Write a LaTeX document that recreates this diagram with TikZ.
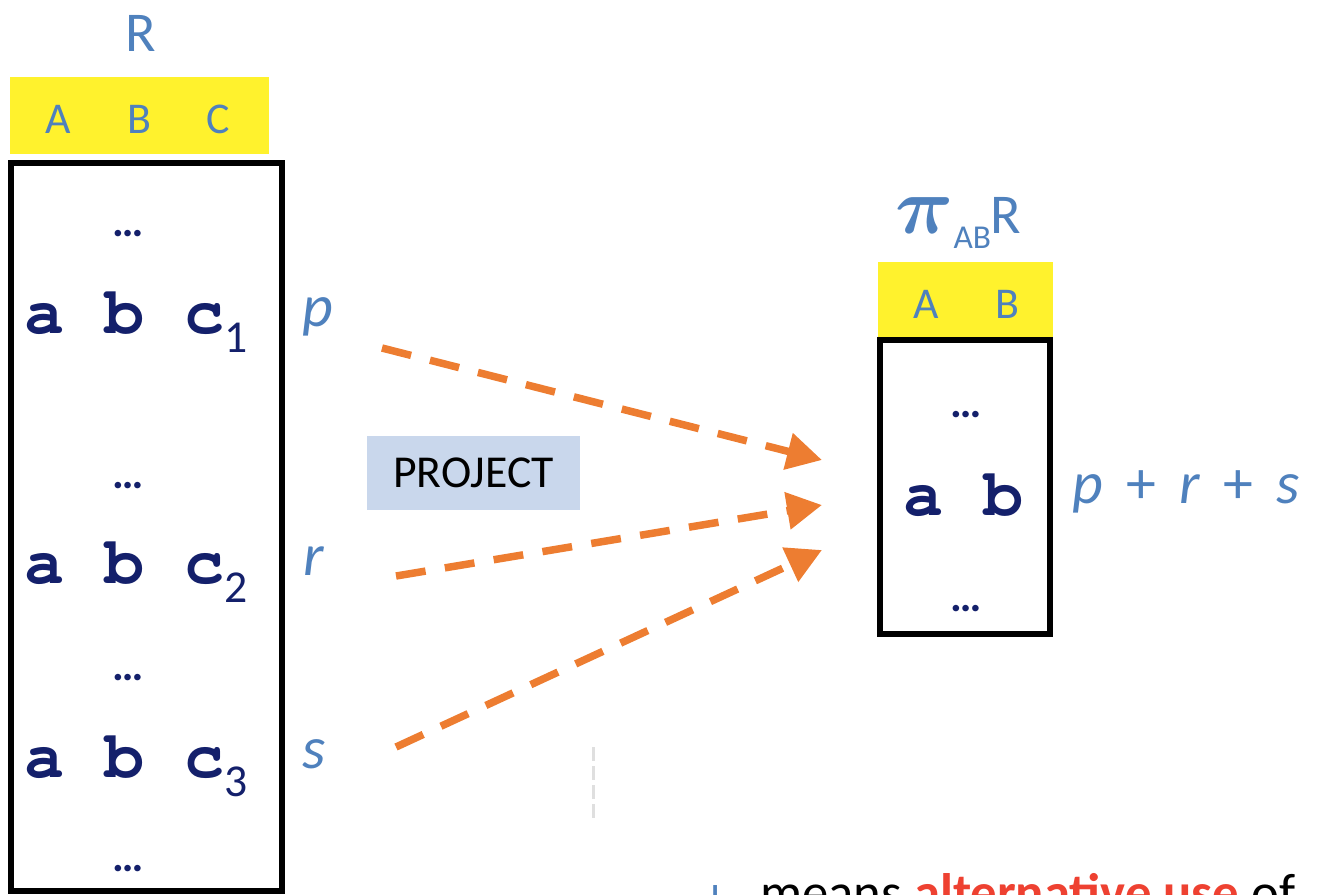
\documentclass[tikz,border=0pt]{standalone}
\usepackage{fix-cm}
\usepackage{fontspec}
\setmainfont{Carlito}
\usetikzlibrary{arrows.meta}

\definecolor{relblue}{HTML}{4F81BD}
\definecolor{headyellow}{HTML}{FFF22D}
\definecolor{tuplenavy}{HTML}{14206B}
\definecolor{floworange}{HTML}{ED7D31}
\definecolor{opfill}{HTML}{C9D7EC}
\definecolor{notered}{HTML}{EE4131}

% bold courier for the tuple values
\newcommand\codefont{\fontencoding{T1}\fontfamily{pcr}\fontseries{b}\selectfont}
% index under the last value of a tuple
\newcommand\tupidx[1]{\raisebox{-0.38cm}{\normalfont\fontsize{26}{28}\selectfont #1}}

\tikzset{
  reltitle/.style={text=relblue, font=\fontsize{32}{36}\selectfont, inner sep=0, anchor=base},
  attrname/.style={text=relblue, font=\fontsize{25}{28}\selectfont, inner sep=0, anchor=base},
  headbar/.style={fill=headyellow, inner sep=0},
  tablebox/.style={draw=black, line width=0.12cm, inner sep=0},
  tuple/.style={text=tuplenavy, font=\codefont\fontsize{38}{40}\selectfont, inner sep=0, anchor=base west},
  gapdots/.style={text=tuplenavy, font=\bfseries\fontsize{25}{28}\selectfont, inner sep=0, anchor=base},
  multlabel/.style={text=relblue, font=\itshape\fontsize{34}{38}\selectfont, inner sep=0, anchor=base},
  flowarrow/.style={draw=floworange, line width=0.15cm, dash pattern=on 0.6cm off 0.39cm,
    -{Triangle[length=0.7cm,width=0.72cm]}},
}

\begin{document}
\begin{tikzpicture}[x=0.02cm,y=-0.02cm]
\useasboundingbox (0,0) rectangle (1319,894);

% relation R
\node (rel) [reltitle] at (141,51) {R};
\node (relhead) [headbar, minimum width=5.18cm, minimum height=1.54cm] at (139.5,115.5) {};
\node (ha) [attrname] at (58,133) {A};
\node (hb) [attrname] at (139,133) {B};
\node (hc) [attrname] at (218,133) {C};
\node (relbox) [tablebox, minimum width=5.42cm, minimum height=14.56cm] at (146.5,527) {};
\node (dots1) [gapdots] at (128,236) {…};
\node (row1) [tuple] at (24,333) {a b c\tupidx{1}};
\node (dots2) [gapdots] at (128,488) {…};
\node (row2) [tuple] at (24,583) {a b c\tupidx{2}};
\node (dots3) [gapdots] at (128,680) {…};
\node (row3) [tuple] at (24,777) {a b c\tupidx{3}};
\node (dots4) [gapdots] at (128,871) {…};

% multiplicities
\node (lp) [multlabel] at (318,326) {p};
\node (lr) [multlabel] at (314,575) {r};
\node (ls) [multlabel] at (314,768) {s};

% the operator
\node (project) [fill=opfill, inner sep=0, minimum width=4.26cm, minimum height=1.48cm,
  font=\fontsize{26}{30}\selectfont] at (473.5,473) {PROJECT};

% result pi_AB R
\node (projtitle) [reltitle, anchor=base west] at (895,233)
  {{\fontsize{46}{50}\selectfont\boldmath$\pi$}\raisebox{-0.3cm}{\fontsize{19}{20}\selectfont AB}R};
\node (projhead) [headbar, minimum width=3.5cm, minimum height=1.5cm] at (965.5,299.5) {};
\node (pa) [attrname] at (926,318) {A};
\node (pb) [attrname] at (1007,318) {B};
\node (projbox) [tablebox, minimum width=3.4cm, minimum height=5.88cm] at (965,487) {};
\node (pdots1) [gapdots] at (966,417) {…};
\node (prow) [tuple] at (903,515) {a b};
\node (pdots2) [gapdots] at (966,611) {…};
\node (psum) [multlabel, anchor=base west] at (1072,503)
  {p\hspace{0.39em}\upshape+\hspace{0.39em}\itshape r\hspace{0.39em}\upshape+\hspace{0.39em}\itshape s};

% tuples going into the result
\coordinate (pfrom) at (382,348);
\coordinate (rfrom) at (396,576);
\coordinate (sfrom) at (396,747);
\coordinate (pto) at (822,460);
\coordinate (rto) at (822,505);
\coordinate (sto) at (822,550);
\draw[flowarrow] (pfrom) -- (pto);
\draw[flowarrow] (rfrom) -- (rto);
\draw[flowarrow] (sfrom) -- (sto);

% faint mark
\draw[gray!25, line width=0.06cm, dash pattern=on 0.28cm off 0.1cm] (593,747) -- (593,822);

\node (note) [anchor=base west, inner sep=0, font=\fontsize{30}{34}\selectfont] at (702,910)
  {\textcolor{relblue}{\raisebox{-0.08cm}{+}}\hspace{0.6em}means \textcolor{notered}{\bfseries alternative use} of};
\end{tikzpicture}
\end{document}
